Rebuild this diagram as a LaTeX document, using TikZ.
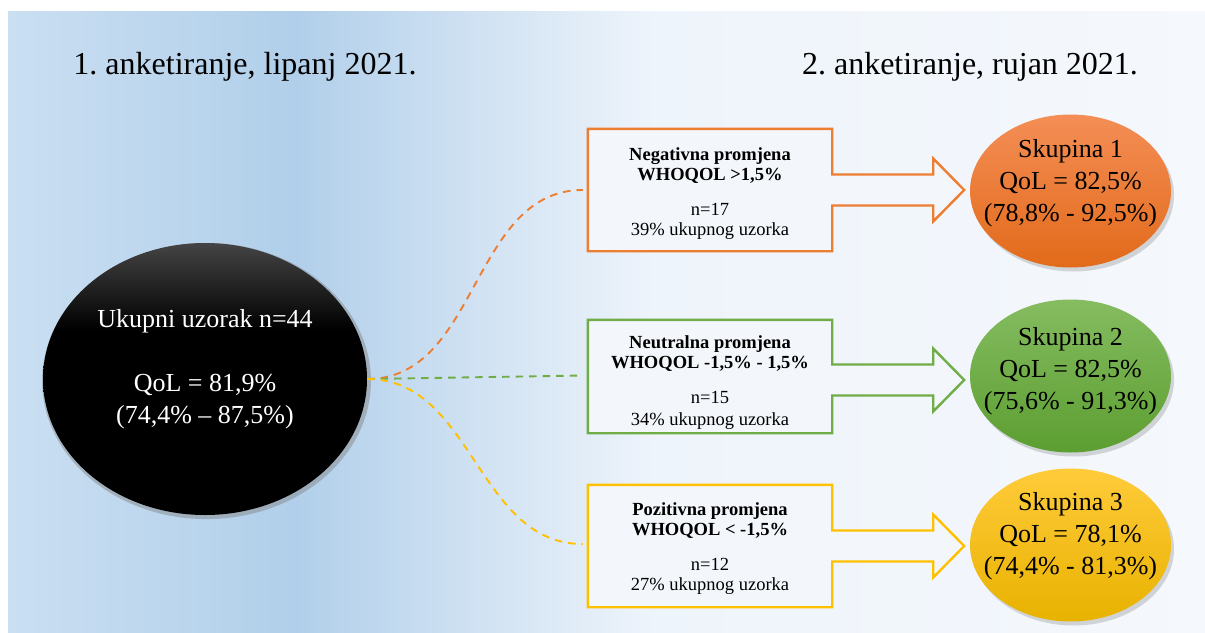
\documentclass[tikz,border=0pt]{standalone}
\usepackage{fontspec}
\setmainfont{Liberation Serif}
\frenchspacing
\usetikzlibrary{calc,shadows,shapes.geometric}
\definecolor{bgA}{RGB}{202,223,242}
\definecolor{bgB}{RGB}{177,207,234}
\definecolor{bgC}{RGB}{238,244,251}
\definecolor{bgD}{RGB}{245,248,252}
\definecolor{boxfill}{RGB}{243,247,252}
\definecolor{orangeC}{RGB}{237,125,49}
\definecolor{greenC}{RGB}{112,173,71}
\definecolor{yellowC}{RGB}{255,192,0}
\definecolor{orangeT}{RGB}{244,142,86}
\definecolor{orangeB}{RGB}{226,106,26}
\definecolor{greenT}{RGB}{133,188,96}
\definecolor{greenB}{RGB}{92,158,49}
\definecolor{yellowT}{RGB}{255,203,58}
\definecolor{yellowB}{RGB}{232,178,0}
\definecolor{blackTop}{RGB}{68,68,68}
\pgfdeclarehorizontalshading{bgshade}{100bp}{color(0bp)=(bgA); color(25bp)=(bgA); color(37bp)=(bgB); color(52bp)=(bgC); color(75bp)=(bgD); color(100bp)=(bgD)}
\pgfdeclareverticalshading{blackshade}{100bp}{color(0bp)=(black); color(25bp)=(black); color(59bp)=(black); color(75bp)=(blackTop); color(100bp)=(blackTop)}
\pgfdeclarelayer{back}
\pgfdeclarelayer{mid}
\pgfsetlayers{back,mid,main}
\newcommand{\mycallout}[3]{%
  \draw[boxline, draw=#2] (#1.north west) -- (#1.north east)
    -- ($(#1.east)+(0,#3-15.5)$) -- ++(101,0) -- ++(0,-16)
    -- ($(#1.east)+(132,#3)$) -- ($(#1.east)+(101,#3+31.5)$) -- ++(0,-16)
    -- ($(#1.east)+(0,#3+15.5)$) -- (#1.south east) -- (#1.south west) -- cycle;}
\begin{document}
\begin{tikzpicture}[x=1pt,y=-1pt,
  boxline/.style={line width=2.4pt, fill=boxfill, line join=miter},
  conn/.style={line width=1.9pt, dash pattern=on 7.5pt off 6pt},
  boxnode/.style={rectangle, minimum width=244pt, inner sep=0pt, draw=none},
  grp/.style={ellipse, minimum width=201pt, minimum height=153pt, inner sep=0pt,
    drop shadow={shadow xshift=3pt, shadow yshift=-4pt, opacity=0.3}},
  grptext/.style={align=center, font=\fontsize{26}{32}\selectfont},
  boxtext/.style={align=center, font=\fontsize{18.5}{20}\selectfont},
  title/.style={font=\fontsize{32}{38}\selectfont, anchor=base}
]
\useasboundingbox (0,0) rectangle (1205,632);
\begin{pgfonlayer}{back}
  \fill[white] (0,0) rectangle (1205,632);
  \shade[shading=bgshade] (8,11) rectangle (1205,632);
\end{pgfonlayer}

% titles
\node[title] (t1) at (245,74) {1. anketiranje, lipanj 2021.};
\node[title] (t2) at (970,74) {2. anketiranje, rujan 2021.};

% total sample ellipse
\node[ellipse, minimum width=324pt, minimum height=272pt, inner sep=0pt,
  shading=blackshade,
  drop shadow={shadow xshift=1.5pt, shadow yshift=-2pt, shadow scale=1.015, opacity=0.45}]
  (e0) at (205,379) {};
\node[align=center, text=white, font=\fontsize{26}{32}\selectfont] (e0t) at (205,369)
  {Ukupni uzorak n=44\\[32pt]QoL = 81,9\%\\(74,4\% – 87,5\%)};

% boxes
\node[boxnode, minimum height=122pt] (b1) at (710,190) {};
\node[boxnode, minimum height=113pt] (b2) at (710,376.5) {};
\node[boxnode, minimum height=122pt] (b3) at (710,546) {};
\begin{pgfonlayer}{mid}
  \mycallout{b1}{orangeC}{0}
  \mycallout{b2}{greenC}{3.5}
  \mycallout{b3}{yellowC}{0}
\end{pgfonlayer}
\node[boxtext] (bt1) at (710,193.5) {\textbf{Negativna promjena}\\\textbf{WHOQOL >1,5\%}\\[15pt]n=17\\39\% ukupnog uzorka};
\node[boxtext] (bt2) at (710,382.5) {\textbf{Neutralna promjena}\\\textbf{WHOQOL -1,5\% - 1,5\%}\\[15pt]n=15\\[2pt]34\% ukupnog uzorka};
\node[boxtext] (bt3) at (710,548.5) {\textbf{Pozitivna promjena}\\\textbf{WHOQOL < -1,5\%}\\[15pt]n=12\\27\% ukupnog uzorka};

% group ellipses
\node[grp, top color=orangeT, bottom color=orangeB] (g1) at (1070.5,191) {};
\node[grp, top color=greenT, bottom color=greenB] (g2) at (1070.5,376) {};
\node[grp, top color=yellowT, bottom color=yellowB] (g3) at (1070.5,545) {};
\node[grptext] (gt1) at (1070.5,183.5) {Skupina 1\\QoL = 82,5\%\\(78,8\% - 92,5\%)};
\node[grptext] (gt2) at (1070.5,371) {Skupina 2\\QoL = 82,5\%\\(75,6\% - 91,3\%)};
\node[grptext] (gt3) at (1070.5,536.5) {Skupina 3\\QoL = 78,1\%\\(74,4\% - 81,3\%)};

% connectors
\draw[conn, draw=orangeC] (e0.east) to[out=0,in=180] ([xshift=-5pt]b1.west);
\draw[conn, draw=greenC] (e0.east) -- ([xshift=-5pt,yshift=1pt]b2.west);
\draw[conn, draw=yellowC] (e0.east) to[out=0,in=180] ([xshift=-5pt,yshift=2pt]b3.west);
\end{tikzpicture}
\end{document}
